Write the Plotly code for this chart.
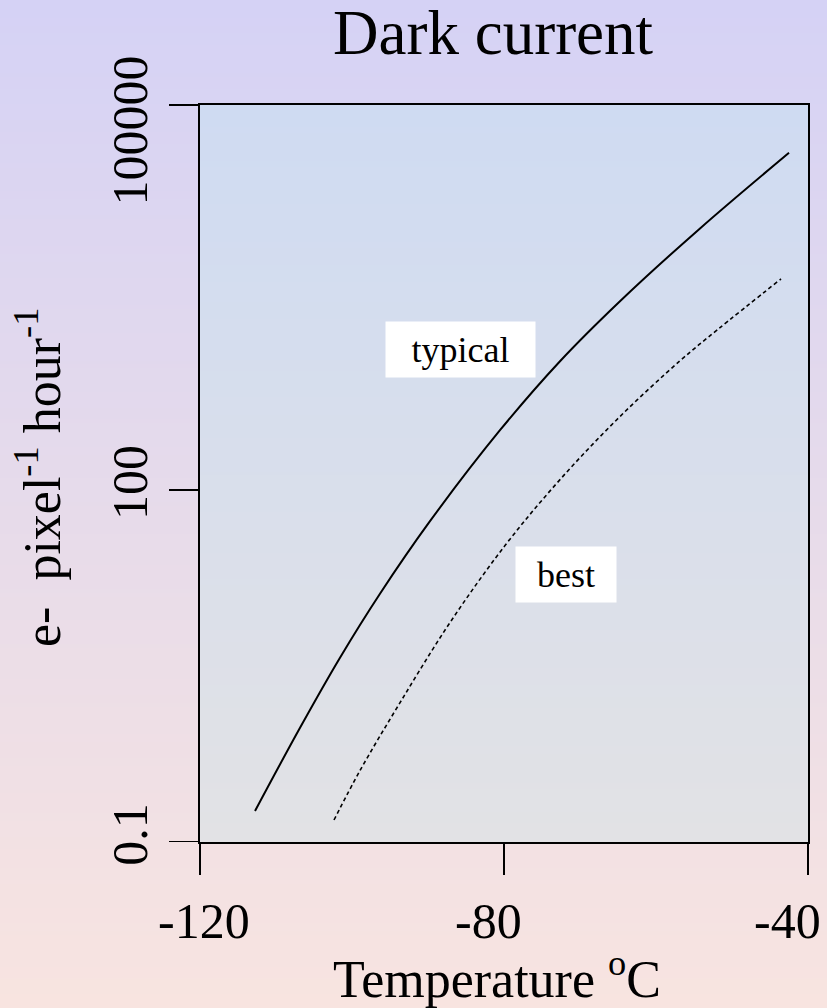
import base64
import struct
import zlib

import plotly.graph_objects as go

# Dark current vs. CCD temperature (electrons per pixel per hour)
temp_typical = [-112.76, -106.84, -101.58, -96.32, -89.74, -80.53, -72.63, -64.74, -54.21, -42.50]
dark_typical = [0.184, 0.941, 3.72, 13.05, 54.2, 323, 1252, 4062, 16955, 74820]

temp_best = [-102.37, -98.95, -93.68, -87.11, -79.87, -72.63, -64.74, -56.84, -51.84, -43.55]
dark_best = [0.154, 0.406, 1.54, 7.41, 33.6, 122.6, 422.7, 1262, 2344, 6295]

x_ticks = [-120, -80, -40]
x_tick_text = ["-120", "-80", "-40"]
y_ticks = [0.1, 100, 100000]
y_tick_text = ["0.1", "100", "100000"]

FONT = "Liberation Serif"
W, H = 827, 1008
ML, MR, MT, MB = 200, 19, 105, 166
PW, PH = W - ML - MR, H - MT - MB
TICK_LEN = 31


def gradient_png(top, bottom, n=256, w=4):
    """Vertical colour ramp encoded as a PNG data URI."""
    rows = []
    for i in range(n):
        t = i / (n - 1)
        c = bytes(round(a + (b - a) * t) for a, b in zip(top, bottom))
        rows.append(b"\x00" + c * w)
    raw = b"".join(rows)

    def chunk(tag, data):
        return (struct.pack(">I", len(data)) + tag + data
                + struct.pack(">I", zlib.crc32(tag + data) & 0xFFFFFFFF))

    ihdr = struct.pack(">IIBBBBB", w, n, 8, 2, 0, 0, 0)
    png = (b"\x89PNG\r\n\x1a\n" + chunk(b"IHDR", ihdr)
           + chunk(b"IDAT", zlib.compress(raw)) + chunk(b"IEND", b""))
    return "data:image/png;base64," + base64.b64encode(png).decode()


fig = go.Figure()

fig.add_trace(go.Scatter(
    x=temp_typical, y=dark_typical, mode="lines", name="typical",
    line=dict(color="black", width=2, shape="spline", smoothing=1.0),
))
fig.add_trace(go.Scatter(
    x=temp_best, y=dark_best, mode="lines", name="best",
    line=dict(color="black", width=1.6, dash="4px,3px", shape="spline", smoothing=1.0),
))

# Background ramps: whole page, then the plotting panel
fig.add_layout_image(dict(
    source=gradient_png((213, 210, 245), (248, 228, 224)),
    xref="paper", yref="paper", x=-ML / PW, y=1 + MT / PH,
    sizex=W / PW, sizey=H / PH, sizing="stretch", layer="below",
    xanchor="left", yanchor="top",
))
fig.add_layout_image(dict(
    source=gradient_png((207, 219, 242), (226, 226, 229)),
    xref="paper", yref="paper", x=0, y=1, sizex=1, sizey=1,
    sizing="stretch", layer="below", xanchor="left", yanchor="top",
))

# Y tick marks: lower ones at their values, the top one where the axis ends
tick_line = dict(color="black", width=2)
for v in y_ticks[:-1]:
    fig.add_shape(type="line", xref="paper", yref="y",
                  x0=-TICK_LEN / PW, x1=0, y0=v, y1=v, line=tick_line)
fig.add_shape(type="line", xref="paper", yref="paper",
              x0=-TICK_LEN / PW, x1=0, y0=1, y1=1, line=tick_line)

# X tick labels, set slightly inward so the last one stays on the page
x_label_px = [204, 488, 787]
for px, txt in zip(x_label_px, x_tick_text):
    fig.add_annotation(text=txt, xref="paper", yref="paper",
                       x=(px - ML) / PW, y=-(921 - MT - PH) / PH,
                       xanchor="center", yanchor="middle", showarrow=False,
                       font=dict(family=FONT, size=50, color="black"))

# Curve labels on white boxes
label_font = dict(family=FONT, size=36, color="black")
fig.add_annotation(x=-85.66, y=3.194, xref="x", yref="y", text="typical",
                   showarrow=False, bgcolor="white", width=149, height=55,
                   borderpad=0, font=label_font)
fig.add_annotation(x=-71.84, y=1.284, xref="x", yref="y", text="best",
                   showarrow=False, bgcolor="white", width=100, height=55,
                   borderpad=0, font=label_font)

# Titles
fig.add_annotation(text="Dark current", xref="paper", yref="paper",
                   x=(493.5 - ML) / PW, y=1 + (MT - 33) / PH,
                   xanchor="center", yanchor="middle", showarrow=False,
                   font=dict(family=FONT, size=63, color="black"))
fig.add_annotation(text="Temperature <sup>o</sup>C",
                   xref="paper", yref="paper",
                   x=(497 - ML) / PW, y=-(975 - MT - PH) / PH,
                   xanchor="center", yanchor="middle", showarrow=False,
                   font=dict(family=FONT, size=52, color="black"))
fig.add_annotation(text="e-  pixel<sup>-1</sup> hour<sup>-1</sup>",
                   xref="paper", yref="paper",
                   x=-(ML - 38) / PW, y=1 - (478 - MT) / PH,
                   xanchor="center", yanchor="middle", showarrow=False,
                   textangle=-90,
                   font=dict(family=FONT, size=52, color="black"))

axis_common = dict(
    showline=True, mirror=True, linecolor="black", linewidth=2,
    ticks="outside", ticklen=TICK_LEN, tickwidth=2,
    showgrid=False, zeroline=False,
    tickfont=dict(family=FONT, size=50, color="black"),
)

fig.update_xaxes(range=[-120, -40], tickvals=x_ticks, showticklabels=False,
                 tickcolor="black", **axis_common)
fig.update_yaxes(type="log", range=[-1, 5.281], tickvals=y_ticks,
                 ticktext=y_tick_text, tickangle=-90,
                 tickcolor="rgba(0,0,0,0)", **axis_common)

fig.update_layout(
    width=W, height=H,
    margin=dict(l=ML, r=MR, t=MT, b=MB),
    paper_bgcolor="rgba(0,0,0,0)", plot_bgcolor="rgba(0,0,0,0)",
    showlegend=False,
    font=dict(family=FONT, color="black"),
)

fig.write_html("out.html")
